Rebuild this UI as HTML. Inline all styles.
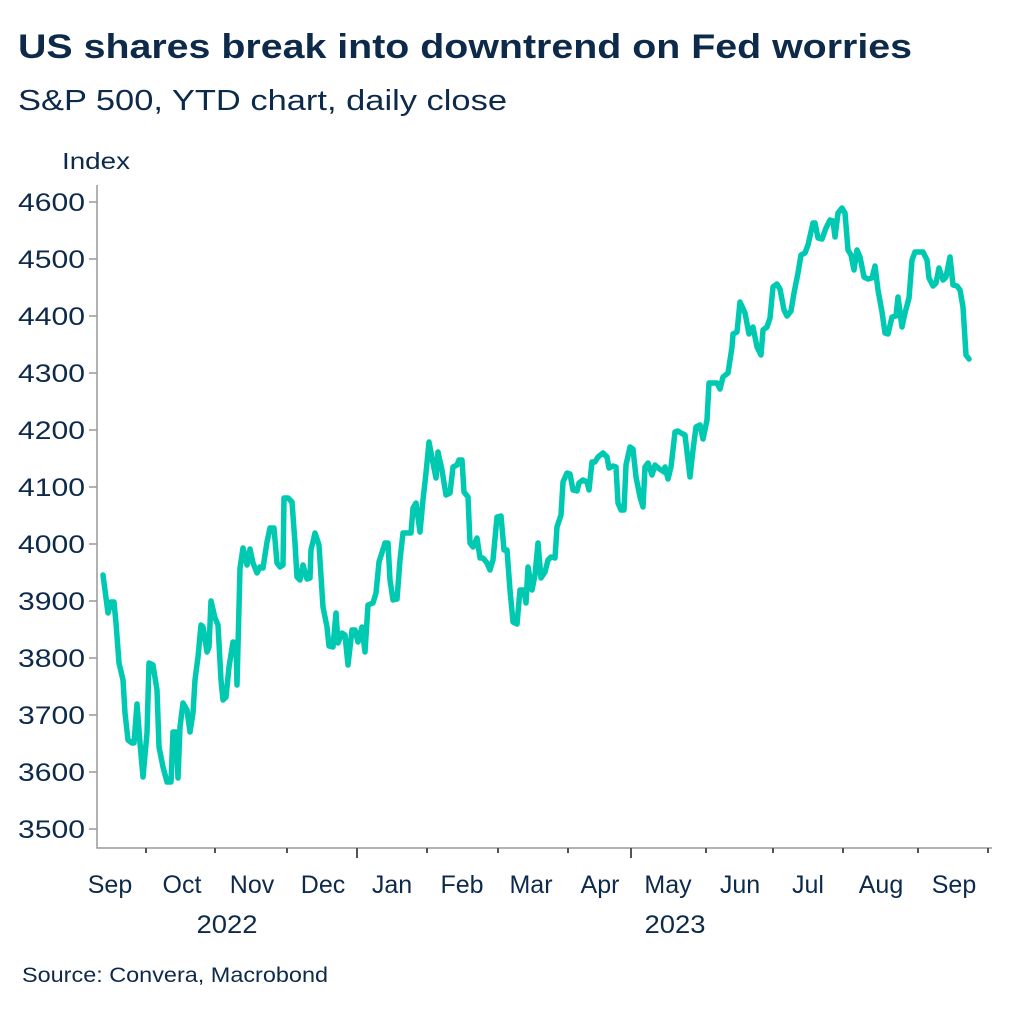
<!DOCTYPE html>
<html><head><meta charset="utf-8"><style>
html,body{margin:0;padding:0;background:#fff;}
svg{display:block;}
text{font-family:"Liberation Sans",sans-serif;fill:#0e2a4b;}
</style></head><body>
<svg width="1024" height="1012" viewBox="0 0 1024 1012" xmlns="http://www.w3.org/2000/svg">
<text x="18" y="58" font-size="34" font-weight="bold" textLength="894" lengthAdjust="spacingAndGlyphs">US shares break into downtrend on Fed worries</text>
<text x="18" y="110" font-size="29" textLength="489" lengthAdjust="spacingAndGlyphs">S&amp;P 500, YTD chart, daily close</text>
<text x="62" y="169" font-size="23" textLength="68" lengthAdjust="spacingAndGlyphs">Index</text>
<g font-size="25" text-anchor="end">
<text x="85" y="211" textLength="67" lengthAdjust="spacingAndGlyphs">4600</text><text x="85" y="268" textLength="67" lengthAdjust="spacingAndGlyphs">4500</text><text x="85" y="325" textLength="67" lengthAdjust="spacingAndGlyphs">4400</text>
<text x="85" y="382" textLength="67" lengthAdjust="spacingAndGlyphs">4300</text><text x="85" y="439" textLength="67" lengthAdjust="spacingAndGlyphs">4200</text><text x="85" y="496" textLength="67" lengthAdjust="spacingAndGlyphs">4100</text>
<text x="85" y="553" textLength="67" lengthAdjust="spacingAndGlyphs">4000</text><text x="85" y="610" textLength="67" lengthAdjust="spacingAndGlyphs">3900</text><text x="85" y="667" textLength="67" lengthAdjust="spacingAndGlyphs">3800</text>
<text x="85" y="724" textLength="67" lengthAdjust="spacingAndGlyphs">3700</text><text x="85" y="781" textLength="67" lengthAdjust="spacingAndGlyphs">3600</text><text x="85" y="838" textLength="67" lengthAdjust="spacingAndGlyphs">3500</text>
</g>
<g stroke="#999" stroke-width="1.5" fill="none">
<path d="M97 185 V848 H992"/>
<path d="M89 202H97M89 259H97M89 316H97M89 373H97M89 430H97M89 487H97M89 544H97M89 601H97M89 658H97M89 715H97M89 772H97M89 829H97"/>
</g>
<g stroke="#555" stroke-width="2">
<path d="M146 848v5M215 848v5M287 848v5M427 848v5M498 848v5M568 848v5M706 848v5M773 848v5M843 848v5M918 848v5M988 848v5"/>
<path d="M357 848v10M631 848v10"/>
</g>
<g font-size="25" text-anchor="middle">
<text x="110" y="893">Sep</text><text x="182" y="893">Oct</text><text x="252" y="893">Nov</text>
<text x="323" y="893">Dec</text><text x="392" y="893">Jan</text><text x="462" y="893">Feb</text>
<text x="531" y="893">Mar</text><text x="600" y="893">Apr</text><text x="668" y="893">May</text>
<text x="740" y="893">Jun</text><text x="808" y="893">Jul</text><text x="881" y="893">Aug</text>
<text x="954" y="893">Sep</text>
<text x="227" y="933" textLength="61" lengthAdjust="spacingAndGlyphs">2022</text><text x="675" y="933" textLength="61" lengthAdjust="spacingAndGlyphs">2023</text>
</g>
<text x="22" y="982" font-size="21" textLength="306" lengthAdjust="spacingAndGlyphs">Source: Convera, Macrobond</text>
<polyline fill="none" stroke="#00c9b1" stroke-width="5.5" stroke-linejoin="round" stroke-linecap="round" points="
103,575 108,613 111,602 114,602 116,623 119,663 123,680 125,713 128,740 132,743 134,743 137,704 140,743 143,777 147,733 149,663 153,665 157,690 159,747 163,767 167,782 171,782 173,732 176,732 178,778 180,727 183,703 187,710 190,732 193,713 195,680 198,657 201,625 203,627 207,652 209,647 211,601 215,618 218,625 221,680 223,700 226,697 229,667 233,642 236,643 237,685 240,568 243,548 247,565 250,549 253,563 257,573 260,567 263,568 267,542 270,528 274,528 277,563 280,567 283,565 284,498 288,498 292,502 295,543 297,577 300,580 303,565 307,579 310,578 311,550 315,533 319,545 323,607 327,627 329,646 333,647 336,613 338,643 342,633 345,635 348,665 352,630 355,630 358,642 362,627 365,652 368,605 373,603 376,593 379,562 385,543 388,543 390,580 393,600 397,599 400,560 403,533 407,533 411,533 413,508 416,503 420,532 423,500 426,473 429,442 433,463 436,478 438,452 442,470 446,495 450,493 453,467 457,465 459,460 462,460 464,492 468,497 470,543 473,547 477,538 480,558 483,558 487,563 490,570 493,560 497,517 501,516 504,550 507,550 510,590 513,622 517,624 520,590 524,590 526,603 528,567 532,590 535,575 538,543 541,578 545,572 548,560 551,557 555,558 557,527 561,515 563,482 567,473 570,474 573,490 577,491 579,483 583,480 587,482 589,490 592,462 595,462 598,457 603,453 607,457 609,468 613,466 616,467 618,503 621,510 624,510 626,465 630,447 633,449 636,477 640,497 643,507 645,467 648,463 652,475 655,465 657,467 661,470 664,472 665,467 668,479 671,467 675,432 678,431 681,433 685,435 690,477 693,450 696,427 700,425 703,439 707,420 709,383 713,383 717,383 720,389 723,377 728,373 732,347 733,334 737,332 740,302 745,313 749,334 753,327 757,347 761,355 763,330 767,327 770,318 773,287 777,284 780,289 784,310 787,316 791,311 794,293 798,273 801,255 805,253 808,245 813,223 815,223 818,238 822,239 826,228 830,220 833,221 835,237 838,213 842,208 845,213 848,250 851,255 854,270 857,250 860,257 864,277 868,279 872,278 875,266 878,290 882,312 885,333 888,334 892,317 896,316 898,297 902,327 905,313 909,298 912,260 915,252 920,252 923,252 927,260 929,278 933,286 936,283 939,268 943,280 946,277 950,257 953,285 957,286 960,290 963,307 966,355 969,359"/>
</svg>
</body></html>
